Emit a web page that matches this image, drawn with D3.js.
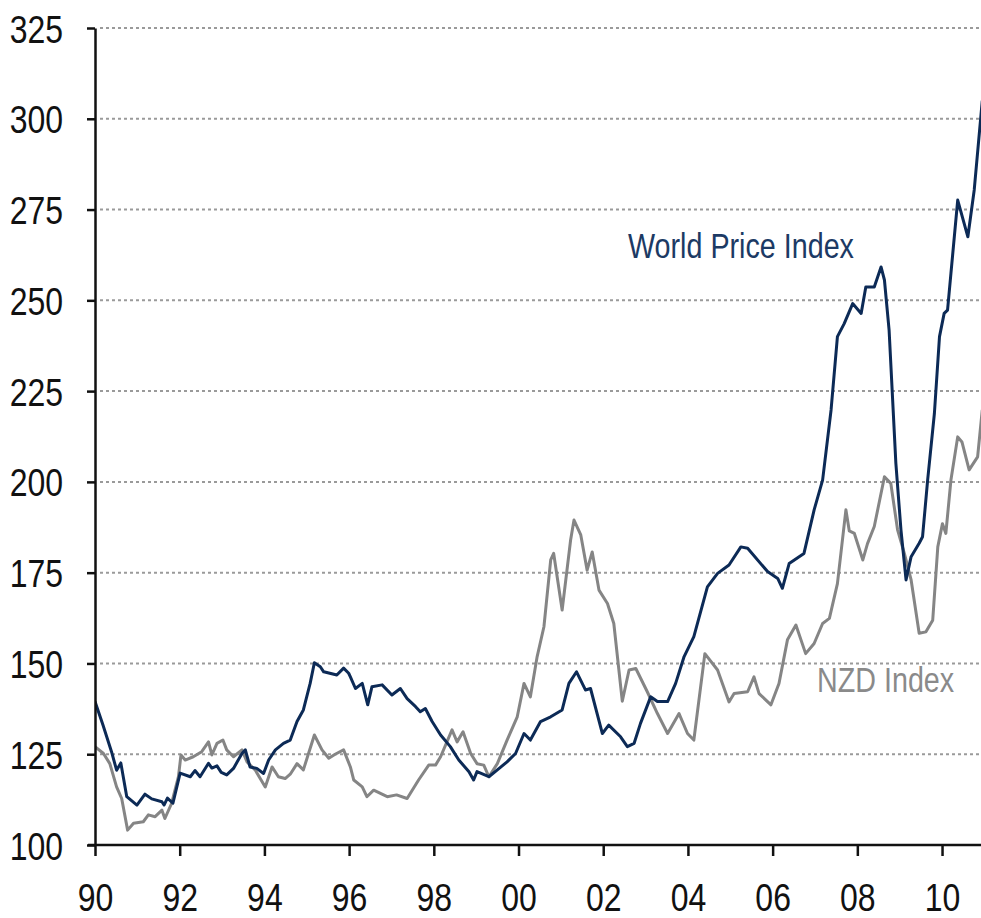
<!DOCTYPE html>
<html>
<head>
<meta charset="utf-8">
<script src="https://cdn.jsdelivr.net/npm/d3@7"></script>
<style>
  body { margin: 0; background: #fff; }
  text { font-family: "Liberation Sans", Arial, sans-serif; }
</style>
</head>
<body>
<div id="chart"></div>
<script>
// values: [decimal year, index]
var worldIndex = [
  [1990.00,139.5],[1990.19,133],[1990.39,125.7],[1990.51,120.6],[1990.61,122.6],[1990.75,113.3],
  [1990.99,111],[1991.18,114],[1991.34,112.7],[1991.58,111.9],[1991.63,111],[1991.71,112.9],
  [1991.84,111.5],[1992.01,119.8],[1992.25,118.8],[1992.36,120.5],[1992.48,118.8],[1992.68,122.5],
  [1992.76,121.2],[1992.88,121.8],[1992.98,120],[1993.11,119.3],[1993.27,121.1],[1993.47,125.2],
  [1993.55,126.2],[1993.66,121.5],[1993.82,121.1],[1993.98,119.7],[1994.10,123.4],[1994.26,126.2],
  [1994.45,128],[1994.61,128.9],[1994.77,134],[1994.92,137.2],[1995.08,144.5],[1995.18,150.2],
  [1995.32,149.1],[1995.40,147.7],[1995.71,146.8],[1995.87,148.7],[1995.99,147.3],[1996.03,146.3],
  [1996.15,143.1],[1996.31,144.5],[1996.44,138.6],[1996.54,143.6],[1996.78,144.1],[1997.01,141.3],
  [1997.21,143.1],[1997.37,140.3],[1997.57,138.1],[1997.68,136.7],[1997.80,137.6],[1997.96,134],
  [1998.16,130.3],[1998.39,127.1],[1998.59,123.4],[1998.83,120.2],[1998.94,117.9],[1999.02,120.2],
  [1999.30,118.8],[1999.50,120.7],[1999.73,122.9],[1999.93,125.2],[2000.13,130.7],[2000.28,128.9],
  [2000.52,134],[2000.76,135.3],[2001.03,137.2],[2001.19,144.5],[2001.37,147.7],[2001.58,142.7],
  [2001.70,143.1],[2001.98,130.7],[2002.13,133],[2002.41,129.8],[2002.57,127.1],[2002.73,128],
  [2002.88,133.5],[2003.12,140.8],[2003.28,139.5],[2003.52,139.5],[2003.71,144.5],[2003.91,151.9],
  [2004.14,157.4],[2004.46,171.1],[2004.70,174.8],[2004.97,177.1],[2005.25,182.1],[2005.41,181.7],
  [2005.88,175.3],[2006.12,173.4],[2006.23,170.7],[2006.39,177.5],[2006.74,180.3],[2006.98,192.3],
  [2007.18,200.5],[2007.38,219.8],[2007.53,240],[2007.69,243.6],[2007.89,249.1],[2008.09,246.4],
  [2008.20,253.7],[2008.40,253.7],[2008.56,259.2],[2008.64,255.6],[2008.75,241.8],[2008.91,205.1],
  [2009.03,186.8],[2009.15,173],[2009.27,179.4],[2009.46,183.1],[2009.54,184.9],[2009.66,200.5],
  [2009.82,218.9],[2009.94,240],[2010.05,246.4],[2010.13,247.3],[2010.21,257.4],[2010.37,277.6],
  [2010.61,267.5],[2010.76,280.4],[2010.95,305]
];

var nzdIndex = [
  [1990.00,127.1],[1990.20,125.2],[1990.35,122.4],[1990.51,116],[1990.63,112.8],[1990.77,104.1],
  [1990.91,106],[1991.14,106.4],[1991.26,108.3],[1991.42,107.8],[1991.58,109.6],[1991.65,107.3],
  [1991.81,111.5],[1991.97,118.8],[1992.03,124.8],[1992.13,123.4],[1992.32,124.3],[1992.52,125.7],
  [1992.68,128.4],[1992.76,124.8],[1992.88,128],[1993.02,128.9],[1993.11,126.2],[1993.27,124.3],
  [1993.47,126.2],[1993.59,122.9],[1993.78,120.7],[1994.02,116],[1994.18,121.5],[1994.33,118.8],
  [1994.49,118.3],[1994.61,119.5],[1994.77,122.4],[1994.92,120.7],[1995.18,130.3],[1995.36,126.2],
  [1995.52,123.9],[1995.67,125],[1995.87,126.2],[1996.03,121.5],[1996.11,117.9],[1996.31,116],
  [1996.42,113.3],[1996.58,115.1],[1996.90,113.3],[1997.12,113.8],[1997.37,112.8],[1997.64,117.9],
  [1997.88,122],[1998.04,122],[1998.16,124.3],[1998.43,131.7],[1998.55,128.4],[1998.69,131.2],
  [1998.87,125.2],[1999.02,122.4],[1999.18,122],[1999.30,118.8],[1999.50,122.4],[1999.73,128.9],
  [1999.97,135.3],[2000.13,144.5],[2000.28,140.8],[2000.44,151.9],[2000.60,160.1],[2000.76,178.5],
  [2000.83,180.3],[2001.03,164.7],[2001.23,184],[2001.31,189.5],[2001.47,185.4],[2001.62,175.7],
  [2001.74,180.7],[2001.90,170.2],[2002.10,166.5],[2002.25,161],[2002.45,139.6],[2002.61,148.2],
  [2002.77,148.6],[2003.04,142.2],[2003.28,136.2],[2003.52,130.7],[2003.79,136.2],[2003.99,130.7],
  [2004.14,128.9],[2004.40,152.7],[2004.70,148.2],[2004.97,139.4],[2005.09,141.7],[2005.41,142.2],
  [2005.56,146.3],[2005.68,141.7],[2005.96,138.6],[2006.15,144.5],[2006.35,156.5],[2006.55,160.6],
  [2006.78,152.7],[2006.98,155.5],[2007.18,161],[2007.34,162.4],[2007.53,172],[2007.73,192.3],
  [2007.81,186.5],[2007.93,185.8],[2008.13,178.5],[2008.24,183],[2008.40,187.7],[2008.64,201.4],
  [2008.79,199.6],[2008.95,186.8],[2009.11,180.3],[2009.27,173],[2009.46,158.3],[2009.62,158.7],
  [2009.78,161.9],[2009.90,182.1],[2010.01,188.5],[2010.09,185.8],[2010.21,200.5],[2010.37,212.4],
  [2010.47,211],[2010.64,203.3],[2010.84,206.9],[2010.95,219.8]
];

var yTicks = [100, 125, 150, 175, 200, 225, 250, 275, 300, 325];
var xTicks = [1990, 1992, 1994, 1996, 1998, 2000, 2002, 2004, 2006, 2008, 2010];
var seriesLabels = ["World Price Index", "NZD Index"];

var svg = d3.select("#chart").append("svg")
  .attr("width", 981).attr("height", 918);

var x = d3.scaleLinear().domain([1990, 2010.92]).range([95, 981]);
var y = d3.scaleLinear().domain([100, 325]).range([845, 28]);

// squeeze text to look like the narrow face of the original
function narrow(sel, k) {
  sel.each(function(){
    var w = this.getComputedTextLength();
    d3.select(this).attr("textLength", w * k).attr("lengthAdjust", "spacingAndGlyphs");
  });
}

svg.append("clipPath").attr("id", "plot")
  .append("rect").attr("x", 95).attr("y", 0).attr("width", 886).attr("height", 845);

// dotted grid
svg.append("g").selectAll("line")
  .data(yTicks.filter(function(d){ return d > 100; }))
  .enter().append("line")
  .attr("x1", 100).attr("x2", 981)
  .attr("y1", function(d){ return y(d); })
  .attr("y2", function(d){ return y(d); })
  .attr("stroke", "#9a9a9a")
  .attr("stroke-width", 2)
  .attr("stroke-dasharray", "3,3");

var line = d3.line()
  .x(function(d){ return x(d[0]); })
  .y(function(d){ return y(d[1]); });

var lines = svg.append("g").attr("clip-path", "url(#plot)");
lines.append("path").datum(nzdIndex)
  .attr("d", line).attr("fill", "none")
  .attr("stroke", "#858585").attr("stroke-width", 3).attr("stroke-linejoin", "round");
lines.append("path").datum(worldIndex)
  .attr("d", line).attr("fill", "none")
  .attr("stroke", "#0c2a56").attr("stroke-width", 3).attr("stroke-linejoin", "round");

// axes
var yAxis = svg.append("g").attr("transform", "translate(95,0)")
  .call(d3.axisLeft(y).tickValues(yTicks).tickSize(8).tickSizeOuter(0).tickPadding(24));
var xAxis = svg.append("g").attr("transform", "translate(0,845)")
  .call(d3.axisBottom(x).tickValues(xTicks).tickSize(11).tickSizeOuter(0).tickPadding(0)
    .tickFormat(function(d){ return String(d % 100).padStart(2, "0"); }));

[yAxis, xAxis].forEach(function(a){
  a.select(".domain").attr("stroke", "#111").attr("stroke-width", 2.5);
  a.selectAll(".tick line").attr("stroke", "#111").attr("stroke-width", 2.5);
  a.selectAll("text").attr("fill", "#111").style("font-size", "39px");
});
xAxis.select(".domain").attr("d", "M88,0H981");
xAxis.selectAll("text").attr("y", 66).attr("dy", null);
yAxis.selectAll("text").attr("dy", "0.36em");
narrow(yAxis.selectAll("text"), 0.82);
narrow(xAxis.selectAll("text"), 0.82);

// series labels (scaled horizontally so their boxes stay inside the page)
svg.append("text").attr("transform", "translate(628,258) scale(0.82,1)")
  .attr("fill", "#1c3a64").style("font-size", "35px").text(seriesLabels[0]);
svg.append("text").attr("transform", "translate(817,692) scale(0.82,1)")
  .attr("fill", "#8a8a8a").style("font-size", "35px").text(seriesLabels[1]);
</script>
</body>
</html>
